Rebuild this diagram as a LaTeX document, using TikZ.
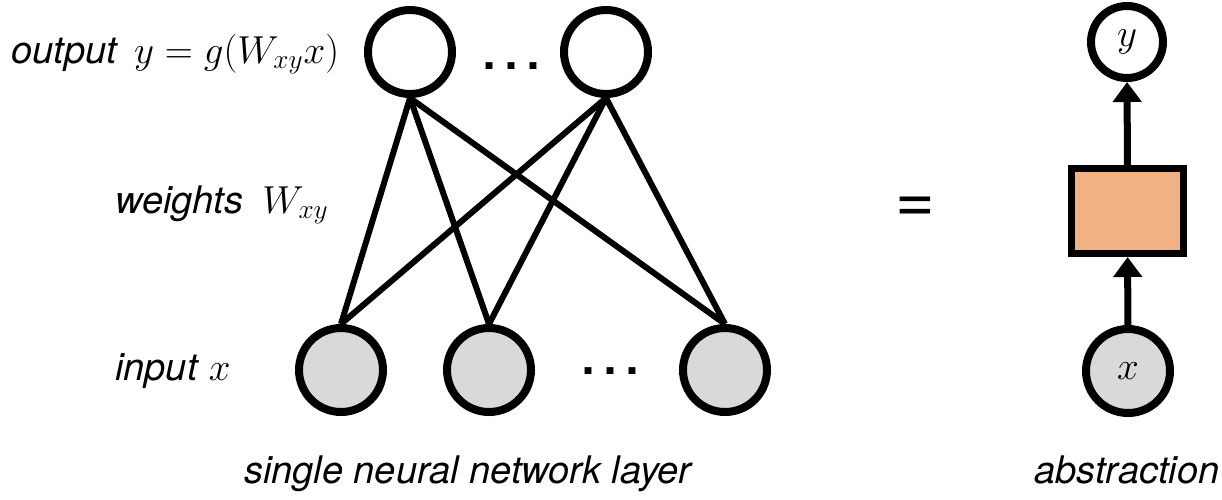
\RequirePackage{fix-cm}
\documentclass[tikz,border=0pt]{standalone}
\usepackage{fontspec}
\setsansfont{TeX Gyre Heros}
\usepackage{tikz}
\usetikzlibrary{arrows.meta}

\definecolor{boxorange}{RGB}{242,177,131}
\definecolor{ingray}{RGB}{217,217,217}

\newcommand{\mathlbl}[1]{{\fontsize{19.5}{22}\selectfont\upshape$#1$}}

\begin{document}
\begin{tikzpicture}[x=0.5pt, y=-0.5pt,
    neuron/.style = {circle, draw, line width=4pt, minimum size=42pt, inner sep=0pt, fill=white},
    inneuron/.style = {neuron, fill=ingray},
    wire/.style = {line width=3pt},
    flow/.style = {line width=3.5pt, -{Triangle[width=14pt, length=10pt]}},
    lbl/.style = {anchor=base west, inner sep=0pt, font=\fontsize{19}{21}\selectfont\sffamily\itshape},
    dotrow/.style = {inner sep=0pt, font=\fontsize{33}{33}\selectfont\sffamily}]
    \useasboundingbox (0,0) rectangle (1222,499);

    % Output units
    \node[neuron] (out1) at (410,52) {};
    \node[neuron] (out2) at (606,52) {};
    \node[dotrow] (outdots) at (511,66) {\textellipsis};

    % Input units
    \node[inneuron] (in1) at (341,370) {};
    \node[inneuron] (in2) at (489,370) {};
    \node[inneuron] (in3) at (725,370) {};
    \node[dotrow] (indots) at (610,371) {\textellipsis};

    % Weights (every input to every output)
    \foreach \o in {out1,out2}
        \foreach \i in {in1,in2,in3}
            \draw[wire] (\o.south) -- (\i.north);

    % Labels on the left
    \node[lbl] (outlbl) at (11,63) {output\hspace{0.45em}\mathlbl{y = g(W_{xy}x)}};
    \node[lbl] (wlbl) at (115,213) {weights\hspace{0.5em}\mathlbl{W_{xy}}};
    \node[lbl] (inlbl) at (115,380) {input\hspace{0.3em}\mathlbl{x}};

    % Equals sign
    \node[inner sep=0pt, font=\fontsize{34}{34}\selectfont\sffamily] (eq) at (915,210) {=};

    % Abstraction
    \node[neuron, minimum size=36pt] (absy) at (1127,42) {\mathlbl{y}};
    \node[draw, line width=3.5pt, fill=boxorange, minimum width=56pt, minimum height=42.5pt, inner sep=0pt] (absbox) at (1127.5,211) {};
    \node[inneuron] (absx) at (1128,371) {\mathlbl{x}};
    \draw[flow] (absx) -- (absbox);
    \draw[flow] (absbox) -- (absy);

    % Captions
    \node[lbl, anchor=base] (layercap) at (468,483) {single neural network layer};
    \node[lbl, anchor=base] (abscap) at (1127,483) {abstraction};
\end{tikzpicture}
\end{document}
